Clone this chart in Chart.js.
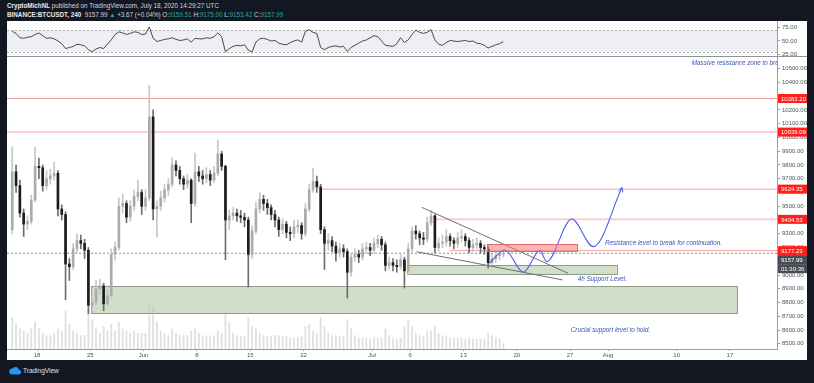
<!DOCTYPE html>
<html><head><meta charset="utf-8">
<script src="https://cdn.jsdelivr.net/npm/chart.js@4.4.1/dist/chart.umd.min.js"></script>
<style>
html,body{margin:0;padding:0;background:#131722;width:814px;height:383px;overflow:hidden;font-family:"Liberation Sans",Arial,sans-serif;}
#hdr{position:absolute;left:7px;top:2px;color:#d1d4dc;font-size:6.3px;line-height:8.6px;white-space:nowrap;}
#hdr b{font-weight:bold;color:#e8e8ec}
#hdr .g{color:#26a69a}
#pane{position:absolute;left:7px;top:21px;width:800px;height:339px;background:#fff;}
#rsiBox{position:absolute;left:0;top:0;width:800px;height:36px;}
#mainBox{position:absolute;left:0;top:36px;width:800px;height:303px;}
#sep{position:absolute;left:0;top:35px;width:800px;height:1px;background:#8f929b;z-index:3}
#ftr{position:absolute;left:9px;top:366px;color:#e0e3eb;font-size:6.5px;display:flex;align-items:center;gap:2px;}
</style></head>
<body>
<div id="hdr">
<div><b>CryptoMichNL</b> published on TradingView.com, July 18, 2020 14:29:27 UTC</div>
<div><b>BINANCE:BTCUSDT, 240</b>&nbsp; 9157.99 <span class="g">▲</span> +3.67 (+0.04%) O:<span class="g">9159.51</span> H:<span class="g">9175.00</span> L:<span class="g">9153.42</span> C:<span class="g">9157.99</span></div>
</div>
<div id="pane">
  <div id="rsiBox"><canvas id="rsi" width="800" height="36"></canvas></div>
  <div id="sep"></div>
  <div id="mainBox"><canvas id="main" width="800" height="303"></canvas></div>
</div>
<div id="ftr"><svg width="12" height="9" viewBox="0 0 12 9"><path d="M3 8.5h6.5a2.4 2.4 0 0 0 .3-4.8A3.4 3.4 0 0 0 3.6 2.6 2.9 2.9 0 0 0 3 8.5z" fill="#2196f3"/></svg><span>TradingView</span></div>
<script>
// ---- time axis: days from May 18 2020 00:00 UTC ----
const dayTicks  = [0, 7, 14, 21, 28, 35, 44, 49, 56, 63, 70, 75, 84, 91];
const dayLabels = ["18","25","Jun","8","15","22","Jul","6","13","20","27","Aug","10","17"];
const candleStart = -3.5;   // first 12h candle opens May 14 12:00
const xMin = -3.94, xMax = 97.18;

// ---- BTCUSDT candles (12h) ----
const opens = [9330,9750,9650,9450,9370,9390,9545,9790,9780,9650,9700,9720,9740,9480,9440,9080,9060,9190,9250,9230,
9180,8780,8800,8900,8920,8790,8850,9150,9200,9500,9520,9420,9500,9570,9600,9500,9560,10150,9480,9500,
9560,9620,9660,9800,9760,9700,9660,9690,9520,9750,9720,9700,9730,9690,9740,9880,9790,9400,9430,9450,
9430,9420,9400,9150,9320,9480,9550,9520,9490,9440,9400,9330,9370,9310,9300,9350,9360,9300,9480,9620,
9680,9640,9330,9230,9250,9210,9160,9190,9170,9020,9130,9150,9130,9190,9200,9180,9230,9260,9220,9070,
9090,9070,9060,9110,9030,9190,9320,9300,9270,9260,9380,9430,9200,9230,9240,9280,9250,9230,9270,9280,
9250,9200,9220,9230,9200,9190,9090,9120,9140,9150];
const closes = [9750,9650,9450,9370,9390,9545,9790,9780,9650,9700,9720,9740,9480,9440,9080,9060,9190,9250,9230,9180,
8780,8800,8900,8920,8790,8850,9150,9200,9500,9520,9420,9500,9570,9600,9500,9560,10150,9480,9500,9560,
9620,9660,9800,9760,9700,9660,9690,9520,9750,9720,9700,9730,9690,9740,9880,9790,9400,9430,9450,9430,
9420,9400,9150,9320,9480,9550,9520,9490,9440,9400,9330,9370,9310,9300,9350,9360,9300,9480,9620,9680,
9640,9330,9230,9250,9210,9160,9190,9170,9020,9130,9150,9130,9190,9200,9180,9230,9260,9220,9070,9090,
9070,9060,9110,9030,9190,9320,9300,9270,9260,9380,9430,9200,9230,9240,9280,9250,9230,9270,9280,9250,
9200,9220,9230,9200,9190,9090,9120,9140,9150,9158];
const highs = [9930,9800,9690,9480,9430,9580,9930,9850,9800,9760,9770,9820,9760,9510,9460,9120,9230,9300,9290,9260,
9200,8860,8960,8970,8940,8900,9190,9240,9560,9590,9540,9540,9620,9690,9620,9620,10380,10200,9540,9610,
9660,9700,9850,9830,9790,9720,9730,9700,9887,9790,9760,9780,9760,9790,9980,9900,9800,9470,9490,9480,
9470,9450,9420,9360,9530,9600,9580,9550,9510,9470,9420,9410,9390,9350,9400,9400,9380,9520,9660,9778,
9720,9660,9350,9300,9280,9240,9230,9220,9190,9160,9190,9180,9230,9240,9230,9270,9290,9280,9240,9130,
9120,9110,9150,9130,9230,9350,9360,9320,9310,9420,9470,9440,9270,9290,9330,9300,9270,9310,9330,9300,
9270,9260,9270,9250,9220,9210,9150,9170,9180,9175];
const lows = [9300,9600,9420,9280,9330,9370,9530,9700,9610,9620,9660,9690,9430,9400,8820,8960,9040,9160,9190,9120,
8720,8730,8780,8860,8740,8780,8830,9110,9180,9450,9380,9390,9470,9540,9440,9470,9540,9400,9276,9470,
9530,9580,9640,9720,9660,9620,9630,9380,9500,9680,9660,9670,9650,9670,9720,9760,9110,9330,9400,9390,
9380,9350,8912,9120,9300,9450,9470,9440,9400,9350,9280,9300,9270,9250,9270,9310,9260,9280,9460,9600,
9600,9300,9040,9180,9170,9100,9130,9130,8833,8990,9100,9090,9110,9160,9140,9160,9200,9180,9030,9040,
9030,9020,9040,8905,9000,9170,9260,9220,9220,9240,9360,9160,9170,9200,9210,9210,9190,9200,9240,9210,
9160,9170,9190,9160,9150,9050,9060,9090,9110,9130];
const volumes = [70,55,45,40,35,45,60,45,35,30,30,35,45,40,85,55,40,35,30,30,
90,65,45,35,50,40,55,40,60,45,40,35,40,35,35,35,100,95,60,40,
35,30,45,35,30,30,30,40,45,35,30,28,28,30,40,35,85,60,35,30,
28,28,70,50,45,35,30,28,28,30,30,28,28,25,25,25,28,50,55,40,
35,70,50,35,30,30,28,28,65,45,30,25,25,25,22,25,25,25,45,30,
25,22,25,50,65,50,35,30,28,40,40,50,35,30,28,25,25,25,25,22,
25,22,22,22,22,35,30,25,22,12];
// RSI(14) values at each candle
const rsiValues = [68,64,56,55,57,58,62,65,60,55,56,54,50,45,36,38,40,44,43,41,
34,30,35,38,36,44,52,62,67,65,62,64,67,66,62,63,76,55,49,51,
53,54,56,53,51,52,54,48,55,54,54,56,55,58,65,58,30,36,40,42,
41,43,33,30,48,54,55,53,50,51,46,44,43,47,50,52,48,68,71,66,
64,38,34,38,40,41,39,40,31,38,42,46,50,52,56,60,58,50,42,41,
40,45,56,47,52,62,70,66,64,66,71,52,44,42,47,51,50,49,50,51,
49,50,46,45,42,37,40,43,45,49];

// ---- axis ticks ----
const priceTicks = [8500,8600,8700,8800,8900,9000,9100,9200,9300,9400,9500,9600,9700,9800,9900,10000,10100,10200,10300,10400,10500];
const rsiTicks = [25, 50, 75];
const priceMin = 8462, priceMax = 10585;
const rsiMin = 20.4, rsiMax = 87;

// ---- drawn levels / annotations (chart coordinates: day, price) ----
const levelPrices = [10283.20, 10039.09, 9624.35, 9404.53, 9177.23];
const levelFrom   = [xMin, xMin, 37.2, 52.4, 54.2];
const lastPrice = 9157.99;
const countdown = "01:30:36";
const resistZone  = [59.09, 70.91, 9177.23, 9225];
const support4h   = [48.55, 76.12, 9007, 9073];
const crucialZone = [7.09, 91.92, 8724, 8920];
const wedgeUpperX = [50.52, 69.77], wedgeUpperY = [9492, 9012];
const wedgeLowerX = [49.86, 69.03], wedgeLowerY = [9169, 8964];
const projX = [59.40, 61.46, 63.86, 66.05, 66.93, 70.22, 73.05, 76.82];
const projY = [9085, 9182, 9020, 9177, 9097, 9407, 9206, 9636];
const noteTexts = ["Massive resistance zone to break", "Resistance level to break for continuation.", "4h Support Level.", "Crucial support level to hold."];
const noteX = [86.0, 74.6, 71.0, 70.1];
const noteY = [10542, 9233, 8971, 8600];

// ---------- styling ----------
const FONT = "'Liberation Sans', Arial, sans-serif";
const AXIS_COL = '#9a9da6', TXT_COL = '#4c525e';
const centers = closes.map((_, i) => candleStart + 0.25 + 0.5 * i);
const isUp = closes.map((c, i) => c >= opens[i]);

function yAxisFit(s){ s.width = 30; s.paddingTop = 0; s.paddingBottom = 0; }

const zonePlugin = {
  id: 'zones',
  beforeDatasetsDraw(chart){
    const {ctx, chartArea:a, scales:{x, y}} = chart;
    ctx.save();
    ctx.beginPath(); ctx.rect(a.left, a.top, a.right - a.left, a.bottom - a.top); ctx.clip();
    const rect = (z, fill, stroke) => {
      const x0 = x.getPixelForValue(z[0]), x1 = x.getPixelForValue(z[1]);
      const y0 = y.getPixelForValue(z[3]), y1 = y.getPixelForValue(z[2]);
      ctx.fillStyle = fill; ctx.fillRect(x0, y0, x1 - x0, y1 - y0);
      ctx.strokeStyle = stroke; ctx.lineWidth = 1;
      ctx.strokeRect(Math.round(x0) + 0.5, Math.round(y0) + 0.5, Math.round(x1 - x0), Math.round(y1 - y0));
    };
    rect(crucialZone, '#d1dfc8', '#8c9c86');
    rect(support4h, '#d1dfc8', '#8c9c86');
    ctx.restore();
  },
  afterDatasetsDraw(chart){
    const {ctx, chartArea:a, scales:{x, y}} = chart;
    ctx.save();
    ctx.beginPath(); ctx.rect(a.left, a.top, a.right - a.left, a.bottom - a.top); ctx.clip();
    const x0 = x.getPixelForValue(resistZone[0]), x1 = x.getPixelForValue(resistZone[1]);
    const y0 = y.getPixelForValue(resistZone[3]), y1 = y.getPixelForValue(resistZone[2]);
    ctx.fillStyle = 'rgba(240,120,120,0.55)'; ctx.fillRect(x0, y0, x1 - x0, y1 - y0);
    ctx.strokeStyle = '#e06a6a'; ctx.lineWidth = 1;
    ctx.strokeRect(Math.round(x0) + 0.5, Math.round(y0) + 0.5, Math.round(x1 - x0), Math.round(y1 - y0));
    const n = projX.length;
    const px = x.getPixelForValue(projX[n-1]), py = y.getPixelForValue(projY[n-1]);
    const qx = x.getPixelForValue(projX[n-1] - 0.6), qy = y.getPixelForValue(projY[n-1] - 110);
    const ang = Math.atan2(py - qy, px - qx);
    ctx.strokeStyle = '#4f5ef0'; ctx.lineWidth = 1;
    ctx.beginPath();
    ctx.moveTo(px - 5 * Math.cos(ang - 0.5), py - 5 * Math.sin(ang - 0.5));
    ctx.lineTo(px, py);
    ctx.lineTo(px - 5 * Math.cos(ang + 0.5), py - 5 * Math.sin(ang + 0.5));
    ctx.stroke();
    ctx.fillStyle = '#3a56b4';
    ctx.font = `italic 6.3px ${FONT}`;
    ctx.textBaseline = 'middle';
    noteTexts.forEach((t, i) => ctx.fillText(t, x.getPixelForValue(noteX[i]), y.getPixelForValue(noteY[i])));
    ctx.restore();
  },
  afterDraw(chart){
    const {ctx, chartArea:a, scales:{y}} = chart;
    ctx.save();
    ctx.font = `6px ${FONT}`; ctx.textBaseline = 'middle'; ctx.textAlign = 'left';
    const box = (cy, bg, text) => {
      ctx.fillStyle = bg; ctx.fillRect(a.right + 1, cy - 4.5, 29, 9);
      ctx.fillStyle = '#ffffff'; ctx.fillText(text, a.right + 4, cy + 0.5);
    };
    let lastBottom = -1;
    levelPrices.forEach(p => { const cy = y.getPixelForValue(p); box(cy, '#ff2020', p.toFixed(2)); lastBottom = Math.max(lastBottom, cy + 4.5); });
    const cp = Math.max(y.getPixelForValue(lastPrice), lastBottom + 4.5);
    box(cp, '#4a4c54', lastPrice.toFixed(2));
    box(cp + 9, '#4a4c54', countdown);
    ctx.restore();
  }
};

const levelSets = levelPrices.map((p, i) => ({
  type: 'line', order: 8,
  data: [{x: levelFrom[i], y: p}, {x: xMax, y: p}],
  borderColor: (i === 1 || i === 3) ? '#fbcfcf' : '#f49e9e',
  borderWidth: (i === 1 || i === 3) ? 2 : 1,
  pointRadius: 0
}));

new Chart(document.getElementById('main'), {
  type: 'bar',
  data: { datasets: [
    { type: 'bar', order: 10, yAxisID: 'yv', grouped: false, barThickness: 1.2,
      data: centers.map((c, i) => ({x: c, y: volumes[i]})),
      backgroundColor: 'rgba(185,187,195,0.45)' },
    ...levelSets,
    { type: 'line', order: 7, data: [{x: xMin, y: lastPrice}, {x: xMax, y: lastPrice}],
      borderColor: '#8a8a8a', borderWidth: 1, borderDash: [2, 2], pointRadius: 0 },
    { type: 'bar', order: 5, grouped: false, barThickness: 1,
      data: centers.map((c, i) => ({x: c, y: [lows[i], highs[i]]})),
      backgroundColor: isUp.map(u => u ? '#c6c6c6' : '#6e6e6e') },
    { type: 'bar', order: 4, grouped: false, barThickness: 2, minBarLength: 1,
      data: centers.map((c, i) => ({x: c, y: [Math.min(opens[i], closes[i]), Math.max(opens[i], closes[i])]})),
      backgroundColor: isUp.map(u => u ? '#ababab' : '#1c1c1c') },
    { type: 'line', order: 3, data: wedgeUpperX.map((v, i) => ({x: v, y: wedgeUpperY[i]})),
      borderColor: '#6f6f6f', borderWidth: 1, pointRadius: 0 },
    { type: 'line', order: 3, data: wedgeLowerX.map((v, i) => ({x: v, y: wedgeLowerY[i]})),
      borderColor: '#6f6f6f', borderWidth: 1, pointRadius: 0 },
    { type: 'line', order: 2, data: projX.map((v, i) => ({x: v, y: projY[i]})),
      borderColor: '#4f5ef0', borderWidth: 1.1, pointRadius: 0, cubicInterpolationMode: 'monotone' }
  ]},
  options: {
    responsive: false, animation: false, events: [],
    layout: { padding: 0 },
    plugins: { legend: {display: false}, tooltip: {enabled: false} },
    scales: {
      x: { type: 'linear', min: xMin, max: xMax, offset: false,
        grid: { display: true, drawOnChartArea: false, offset: false, tickLength: 2, color: AXIS_COL },
        border: { display: true, color: AXIS_COL },
        afterBuildTicks: s => { s.ticks = dayTicks.map(v => ({value: v})); },
        afterFit: s => { s.height = 11; s.paddingLeft = 0; s.paddingRight = 0; },
        ticks: { autoSkip: false, maxRotation: 0, padding: 1, color: TXT_COL, font: {size: 6, family: FONT},
          callback: (v, i) => dayLabels[i] } },
      y: { type: 'linear', position: 'right', min: priceMin, max: priceMax,
        grid: { display: true, drawOnChartArea: false, tickLength: 3, color: AXIS_COL },
        border: { display: true, color: AXIS_COL },
        afterBuildTicks: s => { s.ticks = priceTicks.map(v => ({value: v})); },
        afterFit: yAxisFit,
        ticks: { padding: 2, color: TXT_COL, font: {size: 6, family: FONT}, callback: v => Number(v).toFixed(2) } },
      yv: { type: 'linear', display: false, min: 0, max: 650 }
    }
  },
  plugins: [zonePlugin]
});

const rsiBand = {
  id: 'rsiBand',
  beforeDatasetsDraw(chart){
    const {ctx, chartArea:a, scales:{y}} = chart;
    const y70 = y.getPixelForValue(70), y30 = y.getPixelForValue(30);
    ctx.save();
    ctx.fillStyle = '#efeff3'; ctx.fillRect(a.left, y70, a.right - a.left, y30 - y70);
    ctx.strokeStyle = '#a9abb3'; ctx.lineWidth = 1; ctx.setLineDash([2, 2]);
    [y70, y30].forEach(v => { ctx.beginPath(); ctx.moveTo(a.left, Math.round(v) + 0.5); ctx.lineTo(a.right, Math.round(v) + 0.5); ctx.stroke(); });
    ctx.restore();
  }
};

new Chart(document.getElementById('rsi'), {
  type: 'line',
  data: { datasets: [{ data: centers.map((c, i) => ({x: c, y: rsiValues[i]})),
    borderColor: '#4a4a4a', borderWidth: 1, pointRadius: 0, tension: 0 }] },
  options: {
    responsive: false, animation: false, events: [],
    layout: { padding: 0 },
    plugins: { legend: {display: false}, tooltip: {enabled: false} },
    scales: {
      x: { type: 'linear', min: xMin, max: xMax, display: false },
      y: { type: 'linear', position: 'right', min: rsiMin, max: rsiMax,
        grid: { display: true, drawOnChartArea: false, tickLength: 3, color: AXIS_COL },
        border: { display: true, color: AXIS_COL },
        afterBuildTicks: s => { s.ticks = rsiTicks.map(v => ({value: v})); },
        afterFit: yAxisFit,
        ticks: { padding: 2, color: TXT_COL, font: {size: 6, family: FONT}, callback: v => Number(v).toFixed(2) } }
    }
  },
  plugins: [rsiBand]
});
</script>
</body></html>
